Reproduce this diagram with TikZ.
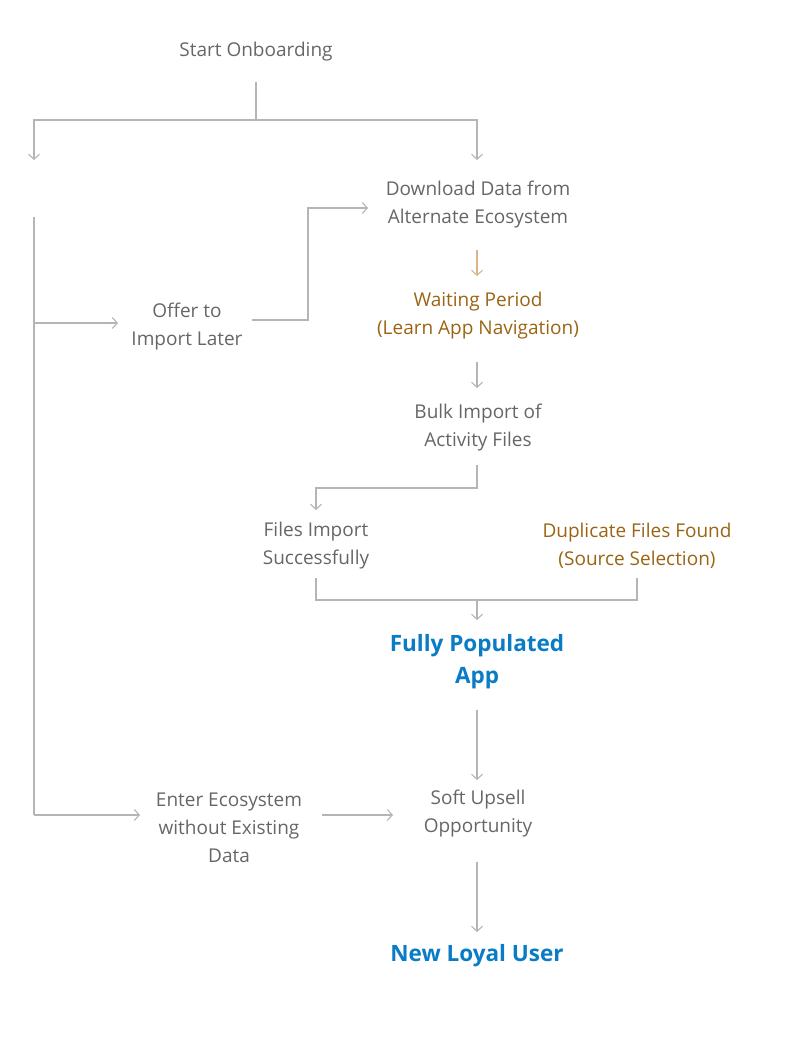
\documentclass[tikz,border=0pt]{standalone}
\usepackage{fontspec}
\setmainfont{Open Sans}
\usetikzlibrary{arrows.meta}
\definecolor{tx}{HTML}{666666}
\definecolor{ln}{HTML}{B5B5B5}
\definecolor{gd}{HTML}{9A6412}
\definecolor{gl}{HTML}{D6B78A}
\definecolor{bl}{HTML}{0A7CC6}
\begin{document}
\begin{tikzpicture}[x=1pt,y=-1pt,
  t/.style={text=tx,font=\fontsize{19}{28}\selectfont,align=center,inner sep=0},
  g/.style={t,text=gd},
  b/.style={text=bl,font=\fontsize{22.5}{32}\selectfont\bfseries,align=center,inner sep=0},
  c/.style={draw=ln,line width=1.1pt},
  a/.style={c,-{Straight Barb[length=5pt,width=11pt,line width=1.1pt]}}]
\useasboundingbox (0,0) rectangle (808,1049);
\node[t] (start) at (256,52) {Start Onboarding};
\coordinate (s1) at (256,82);
\coordinate (lt) at (34,160);
\coordinate (lb) at (34,217);
\node[t] (dl) at (478,205) {Download Data from\\Alternate Ecosystem};
\node[t] (off) at (187,327) {Offer to\\Import Later};
\node[g] (wait) at (478,316) {Waiting Period\\(Learn App Navigation)};
\node[t] (bulk) at (478,428) {Bulk Import of\\Activity Files};
\node[t] (succ) at (316,546) {Files Import\\Successfully};
\node[g] (dup) at (637,546) {Duplicate Files Found\\(Source Selection)};
\node[b] (full) at (477,662) {Fully Populated\\App};
\node[t] (soft) at (478,814) {Soft Upsell\\Opportunity};
\node[t] (ent) at (229,828) {Enter Ecosystem\\without Existing\\Data};
\node[b] (loyal) at (477,956) {New Loyal User};
\draw[c] (s1) -- (256,120);
\draw[a] (256,120) -- (34,120) -- (lt);
\draw[a] (256,120) -- (477,120) -- (477,160);
\draw[c] (lb) -- (34,815);
\draw[a] (34,323) -- (118,323);
\draw[a] (252,320) -- (308,320) -- (308,208) -- (368,208);
\draw[c,draw=gl,-{Straight Barb[length=5pt,width=11pt,line width=1.1pt]}] (477,250) -- (477,276);
\draw[a] (477,362) -- (477,388);
\draw[a] (477,465) -- (477,488) -- (316,488) -- (316,510);
\draw[c] (316,578) -- (316,600) -- (637,600) -- (637,578);
\draw[a] (477,600) -- (477,620);
\draw[a] (477,710) -- (477,780);
\draw[a] (34,815) -- (140,815);
\draw[a] (322,815) -- (393,815);
\draw[a] (477,862) -- (477,932);
\end{tikzpicture}
\end{document}
